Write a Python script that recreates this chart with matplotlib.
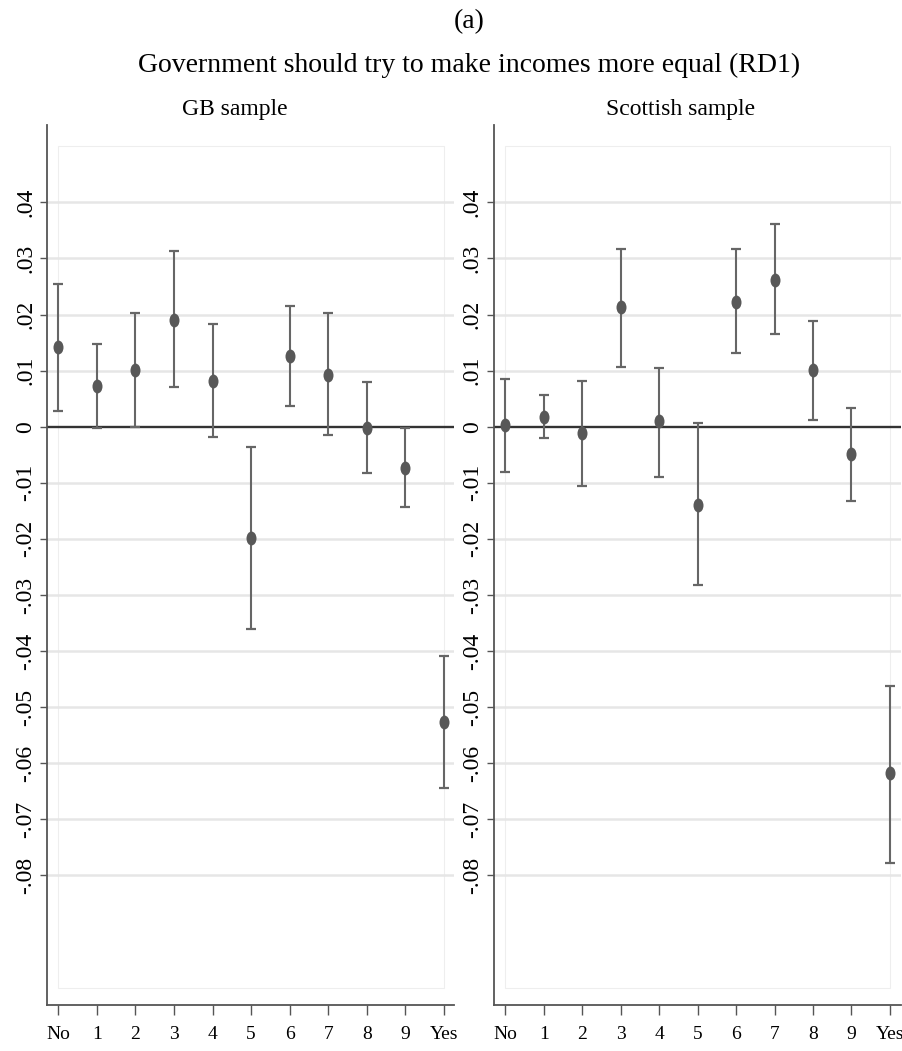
import numpy as np
import matplotlib as mpl
mpl.use('Agg')
import matplotlib.pyplot as plt
from matplotlib.path import Path
from matplotlib.transforms import Affine2D
from matplotlib.ticker import FixedLocator, FuncFormatter
from matplotlib.patches import Rectangle

mpl.rc('font', family='Liberation Serif')

# categories on the x axis
cats = ['No', '1', '2', '3', '4', '5', '6', '7', '8', '9', 'Yes']

# GB sample: point estimate, upper and lower bound of the interval
gb_est = [0.0143, 0.0073, 0.0101, 0.0191, 0.0082, -0.0199, 0.0126, 0.0093, -0.0002, -0.0073, -0.0527]
gb_hi = [0.0255, 0.0147, 0.0202, 0.0314, 0.0183, -0.0037, 0.0216, 0.0202, 0.0079, -0.0002, -0.0409]
gb_lo = [0.0028, -0.0002, 0.0000, 0.0070, -0.0018, -0.0361, 0.0037, -0.0014, -0.0082, -0.0143, -0.0644]

# Scottish sample
sc_est = [0.0003, 0.0017, -0.0012, 0.0213, 0.0010, -0.0139, 0.0222, 0.0261, 0.0101, -0.0049, -0.0618]
sc_hi = [0.0085, 0.0056, 0.0082, 0.0317, 0.0105, 0.0007, 0.0317, 0.0361, 0.0189, 0.0033, -0.0462]
sc_lo = [-0.0080, -0.0021, -0.0106, 0.0107, -0.0089, -0.0283, 0.0131, 0.0166, 0.0012, -0.0133, -0.0778]

yticks = [0.04, 0.03, 0.02, 0.01, 0.0, -0.01, -0.02, -0.03, -0.04, -0.05, -0.06, -0.07, -0.08]

# tall ellipse marker (the stata export is squeezed sideways)
ellipse = Path.unit_circle().transformed(Affine2D().scale(0.72, 1.0))


def ylab(v, pos):
    s = '{0:.2f}'.format(v)
    if s in ('0.00', '-0.00'):
        return '0'
    return s.replace('0.', '.', 1)


def panel(ax, est, lo, hi, xlim):
    x = np.arange(len(cats))
    est = np.array(est)
    err = np.vstack([est - np.array(lo), np.array(hi) - est])

    ax.add_patch(Rectangle((0, -0.1), 10, 0.15, fill=False, edgecolor='#eeeeee',
                           linewidth=0.8, zorder=0))
    for v in yticks:
        if v != 0:
            ax.axhline(v, color='#e6e6e6', linewidth=1.8, zorder=1)
    ax.axhline(0, color='#333333', linewidth=1.7, zorder=2)

    ax.errorbar(x, est, yerr=err, fmt='none', ecolor='#666666', elinewidth=1.5,
                capsize=3.4, capthick=1.6, zorder=3)
    ax.plot(x, est, linestyle='none', marker=ellipse, markersize=10,
            color='#585858', markeredgewidth=0, zorder=4)

    ax.set_xlim(*xlim)
    ax.set_ylim(-0.1031, 0.0538)
    ax.set_xticks(x)
    ax.set_xticklabels(cats)
    ax.yaxis.set_major_locator(FixedLocator(yticks))
    ax.yaxis.set_major_formatter(FuncFormatter(ylab))

    for s in ('top', 'right'):
        ax.spines[s].set_visible(False)
    for s in ('left', 'bottom'):
        ax.spines[s].set_color('#555555')
        ax.spines[s].set_linewidth(1.3)

    ax.tick_params(axis='x', length=7, width=1, color='#555555', labelsize=14, pad=8)
    ax.tick_params(axis='y', length=5, width=1, color='#555555', labelsize=17, pad=3)
    for lab in ax.get_yticklabels():
        lab.set_rotation(90)
        lab.set_va('center')


fig = plt.figure(figsize=(9.03, 10.51), dpi=100)
ax1 = fig.add_axes([0.0524, 0.0438, 0.4504, 0.8373])
ax2 = fig.add_axes([0.5471, 0.0438, 0.4507, 0.8373])

panel(ax1, gb_est, gb_lo, gb_hi, (-0.285, 10.26))
panel(ax2, sc_est, sc_lo, sc_hi, (-0.294, 10.29))

fig.text(469 / 903, 1 - 28 / 1051, '(a)', ha='center', va='baseline', fontsize=20)
fig.text(469 / 903, 1 - 72 / 1051, 'Government should try to make incomes more equal (RD1)',
         ha='center', va='baseline', fontsize=20)
fig.text(235 / 903, 1 - 115 / 1051, 'GB sample', ha='center', va='baseline', fontsize=17)
fig.text(681 / 903, 1 - 115 / 1051, 'Scottish sample', ha='center', va='baseline', fontsize=17)

fig.savefig('out.png', dpi=100)
